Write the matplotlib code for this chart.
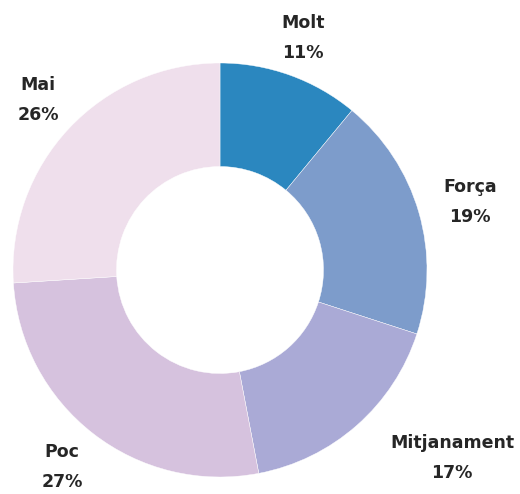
import numpy as np
import matplotlib.pyplot as plt

categories = ["Molt", "Força", "Mitjanament", "Poc", "Mai"]
percents = [11, 19, 17, 27, 26]
colors = ["#2b87bf", "#7d9ccb", "#aaaad6", "#d6c2de", "#efdfec"]

# posició de les etiquetes (píxels, origen a dalt a l'esquerra)
label_pos = [(303, 38), (470, 202), (452, 458), (62, 467), (38, 100)]

W, H = 520, 494
fig = plt.figure(figsize=(W / 100, H / 100), dpi=100)
ax = fig.add_axes([0, 0, 1, 1])

cx, cy, r = 220, H - 270, 207
ax.pie(percents, colors=colors, startangle=90, counterclock=False,
       center=(cx, cy), radius=r, frame=True,
       wedgeprops=dict(width=r * 0.5, edgecolor="white", linewidth=0.3))
ax.set_xlim(0, W)
ax.set_ylim(0, H)
ax.set_aspect("equal")
ax.axis("off")

for cat, p, (x, y) in zip(categories, percents, label_pos):
    ax.text(x, H - y, f"{cat}\n{p}%", ha="center", va="center",
            fontsize=12.5, fontweight="bold", color="#262626",
            family=["DejaVu Sans"], linespacing=1.8)

fig.savefig("out.png", dpi=100)
